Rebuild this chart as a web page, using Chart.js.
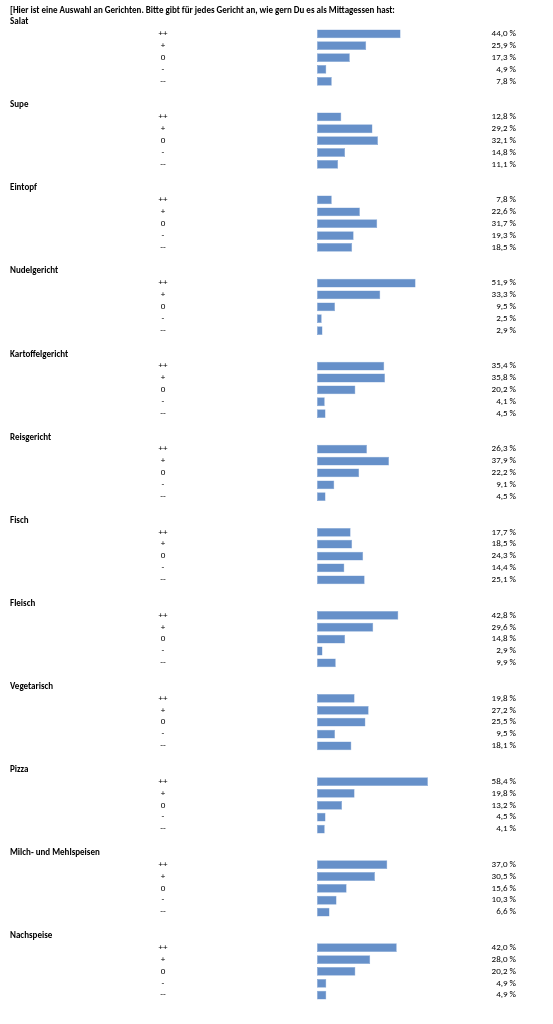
<!DOCTYPE html>
<html lang="de">
<head>
<meta charset="utf-8">
<title>Mittagessen</title>
<script src="https://cdn.jsdelivr.net/npm/chart.js@4/dist/chart.umd.min.js"></script>
<style>
  html, body { margin: 0; padding: 0; background: #fff; }
  #wrap { width: 553px; height: 1024px; position: relative; }
</style>
</head>
<body>
<div id="wrap"><canvas id="essenChart"></canvas></div>
<script>
    // Daten
    const frage = '[Hier ist eine Auswahl an Gerichten. Bitte gibt für jedes Gericht an, wie gern Du es als Mittagessen hast:';
    const gerichte = ['Salat', 'Supe', 'Eintopf', 'Nudelgericht', 'Kartoffelgericht', 'Reisgericht',
        'Fisch', 'Fleisch', 'Vegetarisch', 'Pizza', 'Milch- und Mehlspeisen', 'Nachspeise'];
    const bewertungen = ['++', '+', '0', '-', '--'];

    const salat = [44.0, 25.9, 17.3, 4.9, 7.8];
    const supe = [12.8, 29.2, 32.1, 14.8, 11.1];
    const eintopf = [7.8, 22.6, 31.7, 19.3, 18.5];
    const nudelgericht = [51.9, 33.3, 9.5, 2.5, 2.9];
    const kartoffelgericht = [35.4, 35.8, 20.2, 4.1, 4.5];
    const reisgericht = [26.3, 37.9, 22.2, 9.1, 4.5];
    const fisch = [17.7, 18.5, 24.3, 14.4, 25.1];
    const fleisch = [42.8, 29.6, 14.8, 2.9, 9.9];
    const vegetarisch = [19.8, 27.2, 25.5, 9.5, 18.1];
    const pizza = [58.4, 19.8, 13.2, 4.5, 4.1];
    const milchMehlspeisen = [37.0, 30.5, 15.6, 10.3, 6.6];
    const nachspeise = [42.0, 28.0, 20.2, 4.9, 4.9];

    const werte = [salat, supe, eintopf, nudelgericht, kartoffelgericht, reisgericht,
        fisch, fleisch, vegetarisch, pizza, milchMehlspeisen, nachspeise];

    // Kategorien: Titelzeile, 5 Bewertungen, Leerzeile je Gericht
    const labels = [];
    const daten = [];
    gerichte.forEach((g, i) => {
        labels.push('');
        daten.push(null);
        bewertungen.forEach((b, j) => {
            labels.push(b);
            daten.push(werte[i][j]);
        });
        labels.push('');
        daten.push(null);
    });

    const fontName = 'Carlito, "Liberation Sans", Arial, sans-serif';

    function formatProzent(v) {
        return v.toFixed(1).replace('.', ',') + ' %';
    }

    // Frage, Titel, Bewertungen und Prozentwerte
    const textPlugin = {
        id: 'texte',
        afterDraw(chart) {
            const ctx = chart.ctx;
            const y = chart.scales.y;
            ctx.save();
            ctx.fillStyle = '#000';
            ctx.textBaseline = 'middle';

            ctx.font = 'bold 9px ' + fontName;
            ctx.textAlign = 'left';
            ctx.fillText(frage, 10, 10.5, 386);

            gerichte.forEach((g, i) => {
                ctx.fillText(g, 10, y.getPixelForValue(i * 7));
            });

            ctx.font = '9px ' + fontName;
            ctx.textAlign = 'center';
            labels.forEach((l, k) => {
                if (l !== '') ctx.fillText(l, 163, y.getPixelForValue(k));
            });

            ctx.textAlign = 'right';
            daten.forEach((v, k) => {
                if (v === null) return;
                ctx.fillText(formatProzent(v), 516, y.getPixelForValue(k));
            });
            ctx.restore();
        }
    };

    const ctxEssen = document.getElementById('essenChart').getContext('2d');
    new Chart(ctxEssen, {
        type: 'bar',
        data: {
            labels: labels,
            datasets: [{
                data: daten,
                backgroundColor: '#6690c9',
                borderColor: '#86a7d6',
                borderWidth: 0.5,
                categoryPercentage: 1,
                barPercentage: 0.74,
                borderSkipped: false
            }]
        },
        options: {
            indexAxis: 'y',
            responsive: true,
            maintainAspectRatio: false,
            animation: false,
            layout: {
                padding: { top: 16, bottom: 11, left: 317, right: 46 }
            },
            plugins: {
                legend: { display: false },
                tooltip: { enabled: false }
            },
            scales: {
                x: {
                    display: false,
                    min: 0,
                    max: 100
                },
                y: {
                    display: false
                }
            }
        },
        plugins: [textPlugin]
    });
</script>
</body>
</html>
